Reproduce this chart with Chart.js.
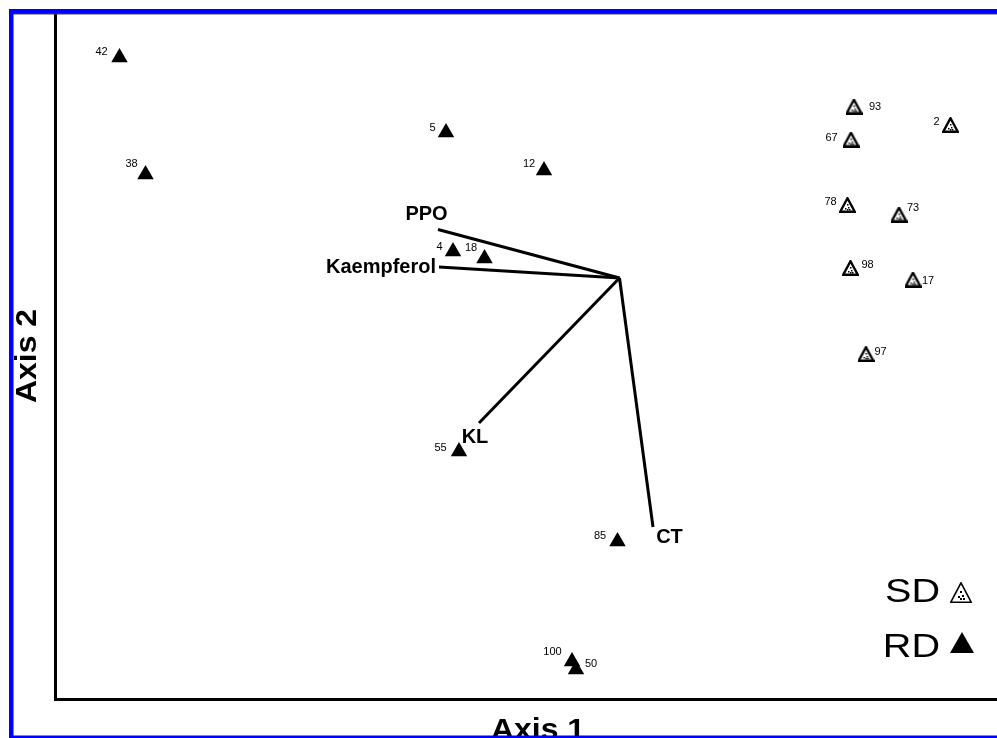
<!DOCTYPE html>
<html>
<head>
<meta charset="utf-8">
<script src="https://cdn.jsdelivr.net/npm/chart.js@4/dist/chart.umd.min.js"></script>
<style>
  html, body { margin: 0; padding: 0; background: #ffffff; overflow: hidden; }
  #ord { display: block; }
</style>
</head>
<body>
<canvas id="ord" width="997" height="738"></canvas>
<script>
// Ordination scores (Axis 1, Axis 2) for the two groups of samples
const sdIds = ['93', '2', '67', '78', '73', '98', '17', '97'];
const sdAxis1 = [0.938, 1.324, 0.926, 0.912, 1.118, 0.924, 1.174, 0.986];
const sdAxis2 = [0.686, 0.612, 0.554, 0.292, 0.254, 0.040, -0.006, -0.304];

const rdIds = ['42', '38', '5', '12', '4', '18', '55', '85', '100', '50'];
const rdAxis1 = [-2.000, -1.896, -0.694, -0.302, -0.666, -0.540, -0.642, -0.008, -0.190, -0.174];
const rdAxis2 = [0.882, 0.414, 0.582, 0.430, 0.106, 0.078, -0.694, -1.054, -1.534, -1.566];

// Biplot vectors of the measured variables (drawn from the origin)
const vectorNames = ['PPO', 'Kaempferol', 'KL', 'CT'];
const vectorAxis1 = [-0.726, -0.722, -0.562, 0.134];
const vectorAxis2 = [0.194, 0.044, -0.580, -0.996];

const axisTitles = ['Axis 1', 'Axis 2'];
const groupNames = ['SD', 'RD'];

// where each sample number sits relative to its marker (px)
const labelOffsets = {
  '42': [-18, -6], '38': [-14, -10.5], '5': [-13.5, -5], '12': [-15, -7],
  '4': [-13.5, -4.5], '18': [-13.5, -11], '55': [-18.5, -3.5], '85': [-17.5, -5.5],
  '100': [-19.5, -9.5], '50': [15, -6],
  '93': [21, 0], '2': [-14, -3], '67': [-19.5, -1.5], '78': [-17, -3],
  '73': [14, -7], '98': [17, -3], '17': [15, 1], '97': [14.5, -2]
};
// vector label placement: [dx, dy, align]
const vectorLabelPlace = {
  'PPO': [-11.5, -15, 'center'],
  'Kaempferol': [-3, 0, 'right'],
  'KL': [-4, 14.5, 'center'],
  'CT': [16.5, 10.5, 'center']
};

// hollow triangle marker with a few dots inside
function openTriangle(w, h, lw, dotSize) {
  const c = document.createElement('canvas');
  c.width = w; c.height = h;
  const g = c.getContext('2d');
  g.beginPath();
  g.moveTo(w / 2, lw / 2);
  g.lineTo(w - lw / 2, h - lw / 2);
  g.lineTo(lw / 2, h - lw / 2);
  g.closePath();
  g.fillStyle = '#ffffff';
  g.fill();
  g.lineWidth = lw;
  g.strokeStyle = '#000000';
  g.lineJoin = 'miter';
  g.stroke();
  g.fillStyle = '#000000';
  [[0.47, 0.42], [0.55, 0.6], [0.38, 0.66], [0.6, 0.76], [0.45, 0.78]].forEach(([fx, fy]) => {
    g.fillRect(Math.round(fx * w), Math.round(fy * h), dotSize, dotSize);
  });
  return c;
}
const sdMarker = openTriangle(17, 16, 2.4, 1.5);
const sdLegendMarker = openTriangle(22, 21, 1.6, 2);

const toPoints = (xs, ys) => xs.map((x, i) => ({ x: x, y: ys[i] }));

const datasets = [
  {
    label: groupNames[1],
    data: toPoints(rdAxis1, rdAxis2),
    pointStyle: 'triangle',
    pointRadius: 9.5,
    backgroundColor: '#000000',
    borderWidth: 0,
    order: 1
  },
  {
    label: groupNames[0],
    data: toPoints(sdAxis1, sdAxis2),
    pointStyle: sdMarker,
    pointRadius: 9,
    order: 1
  }
];
vectorNames.forEach((name, i) => {
  datasets.push({
    type: 'line',
    label: name,
    data: [{ x: 0, y: 0 }, { x: vectorAxis1[i], y: vectorAxis2[i] }],
    borderColor: '#000000',
    borderWidth: 3,
    pointRadius: 0,
    showLine: true,
    fill: false,
    order: 2
  });
});

function stretchedText(ctx, text, x, y, font, align, sx) {
  ctx.save();
  ctx.translate(x, y);
  ctx.scale(sx, 1);
  ctx.font = font;
  ctx.textAlign = align;
  ctx.fillText(text, 0, 0);
  ctx.restore();
}

const annotate = {
  id: 'annotate',
  afterDatasetsDraw(chart) {
    const ctx = chart.ctx;
    const xs = chart.scales.x, ys = chart.scales.y;
    ctx.save();
    ctx.fillStyle = '#000000';

    // sample numbers
    ctx.font = '11px "Liberation Sans", Arial, sans-serif';
    ctx.textAlign = 'center';
    ctx.textBaseline = 'middle';
    const putIds = (ids, ax1, ax2) => ids.forEach((id, i) => {
      const o = labelOffsets[id];
      ctx.fillText(id, xs.getPixelForValue(ax1[i]) + o[0], ys.getPixelForValue(ax2[i]) + o[1]);
    });
    putIds(rdIds, rdAxis1, rdAxis2);
    putIds(sdIds, sdAxis1, sdAxis2);

    // vector names
    ctx.font = 'bold 20px "Liberation Sans", Arial, sans-serif';
    vectorNames.forEach((name, i) => {
      const p = vectorLabelPlace[name];
      ctx.textAlign = p[2];
      ctx.fillText(name, xs.getPixelForValue(vectorAxis1[i]) + p[0], ys.getPixelForValue(vectorAxis2[i]) + p[1]);
    });

    // group key
    ctx.textBaseline = 'alphabetic';
    const keyFont = '33px "Liberation Sans", Arial, sans-serif';
    stretchedText(ctx, groupNames[0], 940, 602, keyFont, 'right', 1.2);
    stretchedText(ctx, groupNames[1], 940, 657, keyFont, 'right', 1.2);
    ctx.drawImage(sdLegendMarker, 950, 582);
    ctx.beginPath();
    ctx.moveTo(962, 632);
    ctx.lineTo(974, 653);
    ctx.lineTo(950, 653);
    ctx.closePath();
    ctx.fill();

    // axis titles
    const titleFont = 'bold 29px "Liberation Sans", Arial, sans-serif';
    stretchedText(ctx, axisTitles[0], 538, 739, titleFont, 'center', 1.1);
    ctx.save();
    ctx.translate(36, 356);
    ctx.rotate(-Math.PI / 2);
    stretchedText(ctx, axisTitles[1], 0, 0, titleFont, 'center', 1.1);
    ctx.restore();
    ctx.restore();
  },
  afterDraw(chart) {
    // blue page frame
    const ctx = chart.ctx;
    ctx.save();
    ctx.fillStyle = '#444444';
    ctx.fillRect(13, 13, 984, 1.5);
    ctx.fillStyle = '#0000ff';
    ctx.fillRect(9, 9, 4.5, 729);
    ctx.fillRect(9, 9, 988, 4.5);
    ctx.fillRect(9, 735.5, 988, 2.5);
    ctx.restore();
  }
};

new Chart(document.getElementById('ord'), {
  type: 'scatter',
  data: { datasets: datasets },
  plugins: [annotate],
  options: {
    responsive: false,
    devicePixelRatio: 1,
    animation: false,
    events: [],
    layout: { autoPadding: false, padding: { left: 55, top: 14, right: 0, bottom: 39 } },
    plugins: { legend: { display: false }, tooltip: { enabled: false } },
    scales: {
      x: {
        type: 'linear',
        min: -2.258, max: 1.51,
        grid: { display: false, drawTicks: false },
        ticks: { display: false },
        border: { display: true, color: '#000000', width: 3 }
      },
      y: {
        type: 'linear',
        min: -1.684, max: 1.056,
        grid: { display: false, drawTicks: false },
        ticks: { display: false },
        border: { display: true, color: '#000000', width: 3 }
      }
    }
  }
});
</script>
</body>
</html>
